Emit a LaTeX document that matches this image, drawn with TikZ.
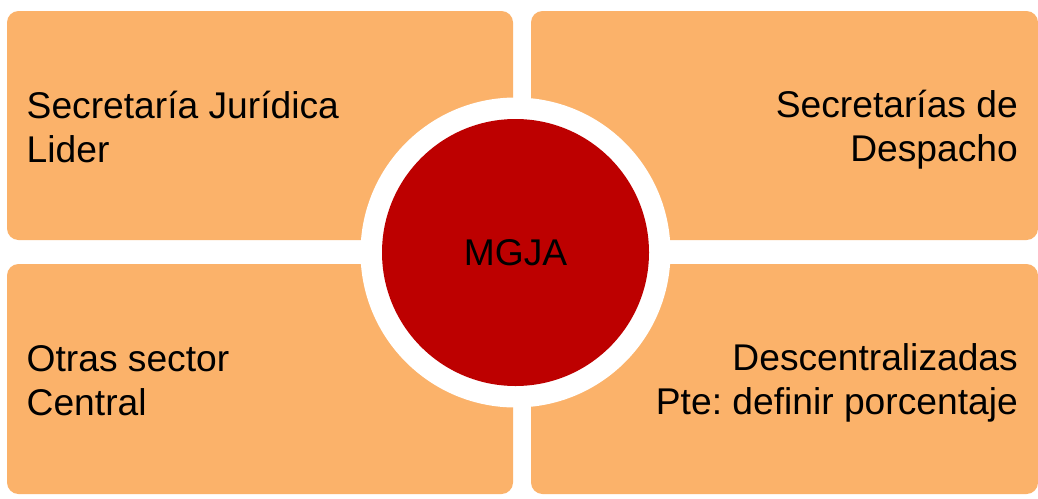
\documentclass[tikz,border=0pt]{standalone}
\usepackage{fontspec}
\setmainfont{Liberation Sans}
\definecolor{boxfill}{HTML}{FBB26A}
\definecolor{discfill}{HTML}{BD0000}
\tikzset{
  quad/.style={fill=boxfill,draw=none,rounded corners=11.5pt},
  lbl/.style={font=\fontsize{37.2pt}{44pt}\selectfont,text=black,inner sep=0pt},
}
\begin{document}
\frenchspacing
\begin{tikzpicture}[x=1pt,y=-1pt]
\useasboundingbox (0,0) rectangle (1038,498);
\fill[white] (0,0) rectangle (1038,498);
\path[quad] (7,11) rectangle (513,240);
\path[quad] (531,11) rectangle (1038,240);
\path[quad] (7,264) rectangle (513,494);
\path[quad] (531,264) rectangle (1038,494);
\node[circle,fill=white,minimum size=310pt,inner sep=0pt] (ring) at (515.5,252.5) {};
\node[circle,fill=discfill,minimum size=267pt,inner sep=0pt,font=\fontsize{37.2pt}{44pt}\selectfont] (disc) at (515.5,252.5) {MGJA};
\node[lbl,anchor=west,align=left] (a) at (26.5,126.5) {Secretaría Jurídica\\Lider};
\node[lbl,anchor=east,align=right] (b) at (1018,130) {Secretarías de\\Despacho};
\node[lbl,anchor=west,align=left] (c) at (26.5,381) {Otras sector\\Central};
\node[lbl,anchor=east,align=right] (d) at (1018,383) {Descentralizadas\\Pte: definir porcentaje};
\end{tikzpicture}
\end{document}
